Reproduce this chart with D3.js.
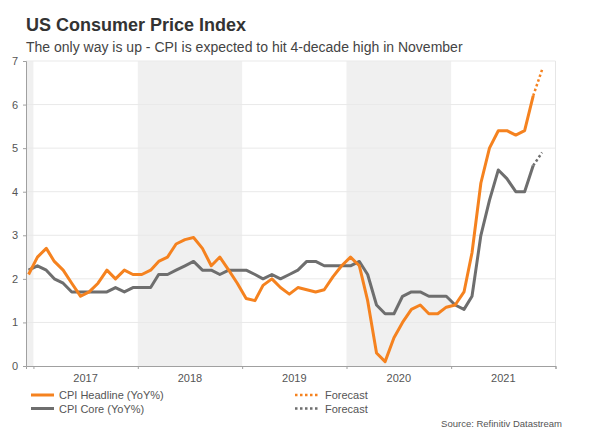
<!DOCTYPE html>
<html>
<head>
<meta charset="utf-8">
<script src="https://cdn.jsdelivr.net/npm/d3@7"></script>
<style>
  html, body { margin: 0; padding: 0; background: #fff; }
  svg { display: block; font-family: "Liberation Sans", Arial, Helvetica, sans-serif; }
</style>
</head>
<body>
<svg id="chart" width="600" height="435"></svg>
<script>
// ---- Data (monthly YoY %, Dec 2016 .. Oct 2021) ----
const months = [
  "2016-12",
  "2017-01","2017-02","2017-03","2017-04","2017-05","2017-06","2017-07","2017-08","2017-09","2017-10","2017-11","2017-12",
  "2018-01","2018-02","2018-03","2018-04","2018-05","2018-06","2018-07","2018-08","2018-09","2018-10","2018-11","2018-12",
  "2019-01","2019-02","2019-03","2019-04","2019-05","2019-06","2019-07","2019-08","2019-09","2019-10","2019-11","2019-12",
  "2020-01","2020-02","2020-03","2020-04","2020-05","2020-06","2020-07","2020-08","2020-09","2020-10","2020-11","2020-12",
  "2021-01","2021-02","2021-03","2021-04","2021-05","2021-06","2021-07","2021-08","2021-09","2021-10"
];
const cpiHeadline = [
  2.1,
  2.5,2.7,2.4,2.2,1.9,1.6,1.7,1.9,2.2,2.0,2.2,2.1,
  2.1,2.2,2.4,2.5,2.8,2.9,2.95,2.7,2.3,2.5,2.2,1.9,
  1.55,1.5,1.85,2.0,1.8,1.65,1.8,1.75,1.7,1.75,2.05,2.3,
  2.5,2.3,1.5,0.3,0.1,0.65,1.0,1.3,1.4,1.2,1.2,1.35,
  1.4,1.7,2.6,4.2,5.0,5.4,5.4,5.3,5.4,6.2
];
const cpiCore = [
  2.2,
  2.3,2.2,2.0,1.9,1.7,1.7,1.7,1.7,1.7,1.8,1.7,1.8,
  1.8,1.8,2.1,2.1,2.2,2.3,2.4,2.2,2.2,2.1,2.2,2.2,
  2.2,2.1,2.0,2.1,2.0,2.1,2.2,2.4,2.4,2.3,2.3,2.3,
  2.3,2.4,2.1,1.4,1.2,1.2,1.6,1.7,1.7,1.6,1.6,1.6,
  1.4,1.3,1.6,3.0,3.8,4.5,4.3,4.0,4.0,4.6
];
const forecastMonths = ["2021-10","2021-11"];
const forecastHeadline = [6.2, 6.8];
const forecastCore = [4.6, 4.9];
const yTicks = [0,1,2,3,4,5,6,7];
const years = [2017, 2018, 2019, 2020, 2021];
const shadedYears = [2016, 2018, 2020];

const title = "US Consumer Price Index";
const subtitle = "The only way is up - CPI is expected to hit 4-decade high in November";
const source = "Source: Refinitiv Datastream";

// ---- Setup ----
const ORANGE = "#f5821f";
const GREY = "#6e6e6e";
const svg = d3.select("#chart");
const L = 26, R = 555.5, T = 61, B = 366;

const parseMonth = s => { const [y, m] = s.split("-").map(Number); return new Date(Date.UTC(y, m - 1, 15)); };

const x = d3.scaleUtc()
  .domain([new Date(Date.UTC(2016, 11, 6)), new Date(Date.UTC(2022, 0, 1))])
  .range([L, R]);
const y = d3.scaleLinear().domain([0, 7]).range([B, T]);

// Shaded years
svg.append("g").selectAll("rect").data(shadedYears).join("rect")
  .attr("x", d => Math.max(L, x(new Date(Date.UTC(d, 0, 1)))))
  .attr("width", d => x(new Date(Date.UTC(d + 1, 0, 1))) - Math.max(L, x(new Date(Date.UTC(d, 0, 1)))))
  .attr("y", T).attr("height", B - T)
  .attr("fill", "#f0f0f0");

// Horizontal gridlines
svg.append("g").selectAll("line").data(yTicks.filter(d => d > 0)).join("line")
  .attr("x1", L).attr("x2", R)
  .attr("y1", d => y(d)).attr("y2", d => y(d))
  .attr("stroke", "#e9e9e9").attr("stroke-width", 1);

// Right border
svg.append("line").attr("x1", R).attr("x2", R).attr("y1", T).attr("y2", B)
  .attr("stroke", "#e6e6e6");

// Y axis
const yAxis = svg.append("g").attr("transform", `translate(${L},0)`)
  .call(d3.axisLeft(y).tickValues(yTicks).tickSize(3).tickPadding(5).tickFormat(d3.format("d")));
yAxis.select(".domain").attr("stroke", "#a0a0a0");
yAxis.selectAll(".tick line").attr("stroke", "#a0a0a0");
yAxis.selectAll("text").attr("fill", "#555").style("font-size", "11px")
  .style("font-family", "'Liberation Sans', Arial, sans-serif");

// X axis
const yearTicks = years.map(d => new Date(Date.UTC(d, 0, 1))).concat([new Date(Date.UTC(2022, 0, 1))]);
const xAxis = svg.append("g").attr("transform", `translate(0,${B})`)
  .call(d3.axisBottom(x).tickValues(yearTicks).tickSize(3).tickFormat(""));
xAxis.select(".domain").attr("stroke", "#a0a0a0");
xAxis.selectAll(".tick line").attr("stroke", "#a0a0a0");

svg.append("g").selectAll("text").data(years).join("text")
  .attr("x", d => (x(new Date(Date.UTC(d, 0, 1))) + x(new Date(Date.UTC(d + 1, 0, 1)))) / 2)
  .attr("y", 381.5)
  .attr("text-anchor", "middle")
  .attr("fill", "#555").style("font-size", "11px")
  .text(d => d);

// Lines
const line = d3.line().x(d => x(d[0])).y(d => y(d[1]));
const headData = months.map((m, i) => [parseMonth(m), cpiHeadline[i]]);
const coreData = months.map((m, i) => [parseMonth(m), cpiCore[i]]);
const fHead = forecastMonths.map((m, i) => [parseMonth(m), forecastHeadline[i]]);
const fCore = forecastMonths.map((m, i) => [parseMonth(m), forecastCore[i]]);

svg.append("path").attr("d", line(coreData)).attr("fill", "none")
  .attr("stroke", GREY).attr("stroke-width", 3).attr("stroke-linejoin", "round");
svg.append("path").attr("d", line(headData)).attr("fill", "none")
  .attr("stroke", ORANGE).attr("stroke-width", 3).attr("stroke-linejoin", "round");
svg.append("path").attr("d", line(fCore)).attr("fill", "none")
  .attr("stroke", GREY).attr("stroke-width", 2.5).attr("stroke-dasharray", "2.5,2.5");
svg.append("path").attr("d", line(fHead)).attr("fill", "none")
  .attr("stroke", ORANGE).attr("stroke-width", 2.5).attr("stroke-dasharray", "2.5,2.5");

// Title & subtitle
svg.append("text").attr("x", 26).attr("y", 31)
  .attr("fill", "#333").style("font-size", "18px").style("font-weight", "bold")
  .text(title);
svg.append("text").attr("x", 26).attr("y", 51.5)
  .attr("fill", "#444").style("font-size", "14px")
  .text(subtitle);

// Legend
const legend = [
  {x1: 31, x2: 54, y: 395, color: ORANGE, dash: null, label: "CPI Headline (YoY%)"},
  {x1: 31, x2: 54, y: 408.5, color: GREY, dash: null, label: "CPI Core (YoY%)"},
  {x1: 295, x2: 320, y: 395, color: ORANGE, dash: "2.5,2.5", label: "Forecast"},
  {x1: 295, x2: 320, y: 408.5, color: GREY, dash: "2.5,2.5", label: "Forecast"}
];
const lg = svg.append("g").selectAll("g").data(legend).join("g");
lg.append("line")
  .attr("x1", d => d.x1).attr("x2", d => d.x2).attr("y1", d => d.y).attr("y2", d => d.y)
  .attr("stroke", d => d.color).attr("stroke-width", d => d.dash ? 2.5 : 3)
  .attr("stroke-dasharray", d => d.dash);
lg.append("text")
  .attr("x", d => d.x2 + 5).attr("y", d => d.y + 4)
  .attr("fill", "#555").style("font-size", "11px")
  .text(d => d.label);

// Source
svg.append("text").attr("x", 562).attr("y", 426.5).attr("text-anchor", "end")
  .attr("fill", "#555").style("font-size", "9.5px")
  .text(source);
</script>
</body>
</html>
